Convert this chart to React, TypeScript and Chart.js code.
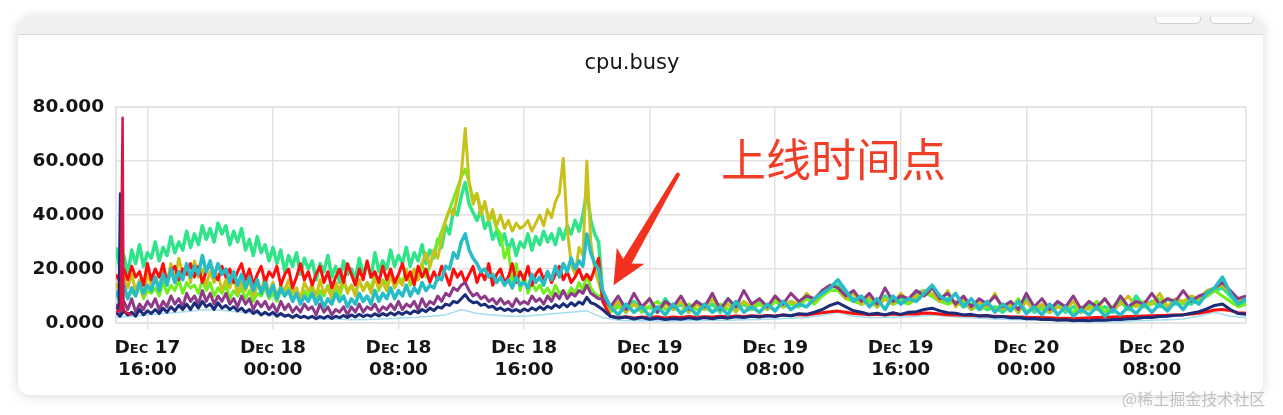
import React, { useEffect, useRef } from "react";
import { Chart, registerables } from "chart.js";

Chart.register(...registerables);

// Hours are counted from Dec 17 00:00. The chart runs Dec 17 14:00 -> Dec 20 14:00.
const START_HOUR = 14;
const END_HOUR = 86;
const RELEASE_HOUR = 45;
// quarter-hour samples before the release, half-hour samples after it
const SAMPLE_HOURS = [
  ...Array.from({ length: 124 }, (_, i) => START_HOUR + i * 0.25),
  ...Array.from({ length: 83 }, (_, i) => RELEASE_HOUR + i * 0.5),
];
const HOUR_GRID = Array.from({ length: 73 }, (_, i) => START_HOUR + i);

const xTickHours = [16, 24, 32, 40, 48, 56, 64, 72, 80];
const yTickValues = [0, 20, 40, 60, 80];
const MONTH = "Dec";
const TITLE = "cpu.busy";
const ANNOTATION_TEXT = "上线时间点";
const WATERMARK = "@稀土掘金技术社区";

// ---- series values ----
const springGreen = [
  28, 20, 25, 18, 27, 22, 29, 21, 26, 24, 30, 23, 28, 25, 32, 26, 30, 27, 34, 28,
  33, 29, 36, 31, 35, 30, 37, 33, 36, 29, 34, 30, 35, 27, 31, 25, 32, 26, 29, 23,
  28, 22, 27, 19, 25, 21, 26, 18, 24, 20, 23, 16, 22, 19, 25, 17, 21, 15, 23, 18,
  20, 16, 24, 18, 22, 17, 26, 19, 23, 20, 27, 21, 25, 22, 28, 21, 26, 23, 29, 22,
  27, 24, 31, 28, 36, 33, 42, 40, 47, 52, 44, 41, 38, 42, 35, 38, 31, 34, 29, 33,
  27, 31, 25, 30, 28, 33, 27, 32, 29, 34, 30, 33, 29, 35, 31, 36, 33, 38, 34, 40,
  49, 38, 33, 30,
  12, 5, 7, 4, 8, 5, 6, 4, 9, 5, 7, 4, 8, 5, 7, 4, 9, 5, 7, 5,
  8, 5, 9, 6, 8, 6, 10, 8, 11, 13, 14, 10, 9, 7, 9, 6, 10, 7, 9, 8,
  11, 12, 10, 8, 9, 7, 8, 5, 7, 5, 6, 4, 7, 4, 9, 4, 6, 4, 7, 4,
  6, 4, 7, 5, 6, 4, 8, 5, 10, 6, 8, 6, 9, 7, 8, 7, 9, 10, 12, 13,
  10, 7, 8,
];

const red = [
  18, 15, 20, 16, 21, 17, 19, 14, 22, 16, 20, 17, 22, 15, 19, 21, 16, 20, 18, 22,
  17, 21, 15, 19, 22, 18, 16, 21, 17, 20, 15, 19, 22, 16, 20, 14, 18, 21, 15, 19,
  17, 21, 14, 18, 20, 13, 17, 22, 16, 19, 14, 18, 21, 15, 19, 13, 17, 20, 15, 22,
  18, 14, 20, 16, 23, 17, 19, 15, 21, 16, 20, 15, 18, 22, 16, 19, 14, 21, 17, 20,
  15, 19, 16, 21, 18, 14, 20, 17, 19, 15, 18, 21, 15, 19, 16, 22, 14, 18, 20, 15,
  17, 22, 15, 19, 16, 21, 14, 18, 20, 16, 19, 15, 18, 21, 16, 19, 15, 17, 20, 16,
  18, 16, 20, 24,
  8, 2.5, 2, 2.3, 1.9, 2.2, 2, 2.3, 1.9, 2.2, 2, 2.4, 2.1, 2.3, 2.2, 2.5, 2.3, 2.6, 2.4, 2.7,
  2.5, 2.8, 2.6, 3, 2.8, 3.1, 3, 3.4, 3.8, 4.2, 4.4, 4, 3.5, 3.3, 3.1, 3.2, 3, 3.3, 3.1, 3.4,
  3.3, 3.7, 3.6, 3.3, 3.1, 3, 2.9, 2.8, 2.7, 2.6, 2.5, 2.4, 2.3, 2.2, 2.1, 2, 2, 1.9, 1.8, 1.8,
  1.7, 1.8, 1.9, 2, 2.1, 2.2, 2.3, 2.4, 2.5, 2.6, 2.7, 2.8, 2.9, 3, 3.1, 3.3, 3.6, 4.2, 4.8, 5,
  4.6, 3.8, 3.6,
];

const olive = [
  15, 11, 17, 13, 18, 12, 16, 10, 19, 14, 17, 13, 20, 15, 22, 16, 24, 18, 21, 15,
  23, 17, 20, 14, 19, 15, 18, 12, 16, 13, 17, 11, 15, 12, 16, 10, 14, 12, 17, 11,
  15, 10, 14, 12, 16, 11, 13, 9, 15, 12, 14, 10, 16, 11, 13, 9, 15, 12, 17, 11,
  14, 10, 16, 12, 15, 11, 17, 13, 15, 12, 18, 13, 16, 14, 19, 15, 20, 16, 22, 26,
  21, 27, 24, 31, 38, 42, 40, 47, 55, 72, 52, 44, 48, 40, 45, 38, 42, 36, 40, 35,
  38, 34, 37, 35, 36, 38, 34, 37, 40, 36, 42, 39, 45, 48, 61, 35, 22, 18, 28, 25,
  60, 30, 20, 15,
  10, 5, 8, 4, 7, 5, 9, 4, 7, 5, 8, 4, 7, 5, 9, 5, 7, 4, 8, 6,
  9, 5, 10, 6, 8, 7, 11, 8, 12, 14, 13, 9, 11, 7, 10, 6, 9, 7, 11, 8,
  10, 12, 11, 8, 12, 6, 9, 5, 8, 6, 11, 5, 7, 4, 8, 5, 7, 4, 6, 5,
  8, 4, 6, 5, 9, 5, 7, 10, 6, 8, 7, 11, 6, 9, 8, 10, 9, 12, 13, 14,
  11, 8, 9,
];

const lime = [
  11, 8, 13, 9, 12, 10, 14, 9, 12, 11, 13, 10, 15, 11, 14, 12, 16, 11, 15, 13,
  14, 11, 16, 12, 15, 10, 13, 11, 14, 9, 12, 10, 13, 9, 12, 8, 11, 10, 13, 9,
  11, 8, 12, 10, 13, 9, 11, 8, 12, 10, 13, 9, 12, 10, 14, 11, 13, 10, 15, 12,
  14, 11, 16, 12, 15, 13, 18, 12, 16, 14, 19, 13, 17, 15, 20, 14, 18, 16, 22, 17,
  21, 26, 30, 34, 38, 42, 46, 50, 54, 57, 52, 46, 48, 42, 44, 38, 40, 35, 33, 24,
  28, 14, 22, 12, 18, 11, 15, 12, 14, 11, 13, 10, 14, 11, 12, 10, 13, 11, 15, 12,
  18, 13, 11, 10,
  10, 4, 6, 5, 7, 4, 6, 8, 5, 6, 4, 7, 5, 6, 4, 7, 5, 6, 8, 5,
  7, 5, 8, 6, 7, 6, 9, 7, 10, 12, 12, 9, 8, 7, 8, 6, 9, 7, 8, 7,
  9, 11, 10, 8, 7, 8, 6, 7, 5, 6, 5, 7, 5, 9, 4, 6, 5, 4, 6, 5,
  4, 6, 5, 8, 4, 6, 9, 5, 7, 6, 7, 9, 6, 8, 7, 9, 8, 10, 12, 10,
  8, 6, 7,
];

const teal = [
  12, 8, 14, 9, 13, 10, 15, 11, 14, 12, 17, 12, 18, 14, 20, 15, 19, 16, 22, 17,
  21, 18, 25, 19, 23, 17, 22, 18, 20, 15, 19, 14, 18, 13, 17, 12, 16, 11, 15, 10,
  14, 9, 13, 10, 12, 8, 11, 7, 10, 8, 11, 7, 10, 6, 9, 7, 11, 8, 10, 6,
  9, 7, 11, 8, 10, 7, 12, 8, 11, 9, 13, 9, 12, 10, 14, 10, 13, 11, 15, 12,
  14, 13, 17, 16, 21, 20, 26, 24, 30, 33, 27, 24, 22, 19, 20, 17, 18, 15, 17, 14,
  16, 13, 17, 14, 15, 13, 18, 15, 17, 14, 19, 16, 21, 17, 22, 19, 24, 20, 23, 21,
  33, 26, 22, 20,
  12, 6, 3, 7, 4, 6, 2.5, 6, 3, 7, 3.5, 6, 3, 7, 4, 6, 3, 8, 4, 6,
  4, 7, 4.5, 8, 5, 7, 6, 9, 11, 13, 16, 12, 8, 10, 6, 9, 5, 10, 7, 9,
  8, 11, 14, 10, 8, 11, 6, 9, 5, 8, 4, 7, 4.5, 8, 3.5, 6, 3, 7, 3, 6,
  2.5, 5, 3, 6, 2.5, 5, 3, 6, 3.5, 7, 4, 7, 4.5, 8, 5, 9, 7, 11, 13, 17,
  11, 7, 9,
];

const purple = [
  7, 4, 8, 5, 9, 4, 7, 5, 8, 6, 9, 5, 8, 6, 10, 7, 9, 6, 11, 8,
  10, 7, 12, 8, 11, 7, 10, 8, 11, 7, 9, 6, 10, 7, 9, 5, 8, 6, 8, 5,
  7, 4, 8, 5, 7, 4, 6, 4, 7, 5, 6, 3, 7, 4, 6, 3, 5, 4, 6, 3,
  6, 4, 7, 4, 6, 5, 7, 4, 6, 5, 7, 5, 8, 5, 7, 6, 8, 5, 9, 6,
  8, 7, 10, 8, 11, 10, 13, 12, 14, 15, 12, 10, 11, 9, 10, 8, 9, 7, 9, 7,
  8, 6, 9, 7, 8, 7, 10, 8, 9, 7, 10, 8, 11, 9, 12, 9, 11, 10, 12, 11,
  14, 11, 10, 9,
  9, 6, 10, 5, 11, 6, 9, 4, 8, 6, 10, 5, 8, 6, 11, 5, 9, 6, 12, 7,
  9, 6, 10, 7, 11, 8, 10, 9, 12, 14, 13, 10, 12, 8, 11, 7, 13, 8, 10, 9,
  12, 10, 13, 9, 11, 7, 10, 6, 9, 7, 10, 6, 8, 5, 11, 6, 9, 5, 8, 6,
  10, 5, 8, 6, 9, 5, 10, 6, 8, 7, 11, 7, 9, 8, 12, 8, 10, 11, 13, 15,
  12, 9, 10,
];

const navy = [
  4, 2.5, 4.5, 3, 4, 2.5, 5, 3, 4.5, 3.5, 5, 3.5, 5.5, 4, 6, 4.5, 6.5, 5, 7, 5,
  7.5, 5.5, 8, 6, 7, 5, 7.5, 5.5, 6.5, 5, 6, 4.5, 5.5, 4, 5, 3.5, 4.5, 3, 4, 3,
  4, 2.5, 3.5, 2.5, 3, 2, 3, 2, 2.5, 1.8, 2.5, 1.6, 2.4, 1.8, 2.6, 1.7, 2.5, 2, 2.8, 2,
  3, 2.2, 3.2, 2.4, 3, 2.5, 3.4, 2.6, 3.5, 2.8, 3.8, 3, 4, 3.2, 4.2, 3.4, 4.5, 3.8, 5, 4.2,
  5.5, 4.6, 6, 5.5, 7, 6.5, 8, 7.5, 9, 10.5, 8.5, 7.5, 7.8, 6.5, 7, 5.8, 6.2, 5, 5.6, 4.6,
  5.2, 4.4, 5, 4.2, 5.2, 4.5, 5.6, 4.8, 6, 5, 6.2, 5.4, 6.8, 5.8, 7.2, 6, 7.5, 6.4, 7.8, 7,
  9.5, 7.5, 7, 6,
  5, 2.5, 1.8, 2.2, 1.5, 2, 1.4, 1.8, 1.3, 1.7, 1.4, 1.9, 1.5, 2, 1.6, 2.1, 1.8, 2.3, 2, 2.5,
  2.2, 2.7, 2.4, 3, 2.7, 3.4, 3.2, 4, 5, 6.5, 7.5, 6, 4.5, 4, 3.2, 3.6, 3, 3.8, 3.2, 4,
  4.2, 5, 5.5, 4.5, 3.8, 3.6, 3, 3.2, 2.6, 2.8, 2.2, 2.4, 1.9, 2, 1.6, 1.7, 1.3, 1.4, 1, 1.2,
  0.8, 1, 0.8, 1.1, 1, 1.3, 1.3, 1.6, 1.7, 2, 2, 2.4, 2.5, 2.9, 3, 3.6, 4.2, 5.2, 6.5, 7,
  5, 3.5, 3.2,
];

// hourly samples
const lightBlue = [
  2, 2.5, 3, 3.5, 4, 4.5, 5, 4.5, 4, 3.5,
  3, 2.5, 2, 1.5, 1.5, 1.2, 1.3, 1.5, 1.8, 2,
  2.5, 3, 5, 3.5, 3, 2.5, 2.5, 3, 3.5, 4,
  4.5, 2, 1, 0.8, 0.8, 0.7, 0.8, 0.9, 1, 1,
  1.2, 1.3, 1.5, 1.8, 2, 2.8, 4, 2.5, 2, 2,
  2.2, 2.5, 3, 2.5, 2, 1.8, 1.5, 1.3, 1.2, 1,
  0.8, 0.6, 0.5, 0.5, 0.6, 0.8, 1, 1.2, 1.5, 2.5,
  4, 2.5, 2,
];

// short start-up spikes
const crimsonHours = [14, 14.3, 14.42, 14.48, 14.6, 15];
const crimsonSpike = [4, 5, 76, 5, 4, 3];
const navySpikeHours = [14.05, 14.18, 14.26, 14.34, 14.5];
const navySpike = [5, 6, 48, 6, 5];

// annotation anchor in data units (hours, value)
const ARROW_TIP = { h: 45.7, v: 14 };
const ARROW_TAIL = { h: 49.8, v: 55 };
const LABEL_ANCHOR = { h: 52.55, v: 60.5 };

const SERIES = [
  { name: "spike-a", hours: crimsonHours, values: crimsonSpike, color: "#dc1444", width: 2.5 },
  { name: "spike-b", hours: navySpikeHours, values: navySpike, color: "#1c2c7c", width: 2.5 },
  { name: "navy", hours: SAMPLE_HOURS, values: navy, color: "#1b2d78", width: 3 },
  { name: "teal", hours: SAMPLE_HOURS, values: teal, color: "#27bcc6", width: 3.5 },
  { name: "purple", hours: SAMPLE_HOURS, values: purple, color: "#8d3a88", width: 3 },
  { name: "red", hours: SAMPLE_HOURS, values: red, color: "#ff0d0d", width: 3 },
  { name: "olive", hours: SAMPLE_HOURS, values: olive, color: "#c9c01a", width: 3 },
  { name: "lime", hours: SAMPLE_HOURS, values: lime, color: "#6ff01c", width: 3 },
  { name: "springGreen", hours: SAMPLE_HOURS, values: springGreen, color: "#30e48a", width: 3.5 },
  { name: "lightBlue", hours: HOUR_GRID, values: lightBlue, color: "#a6dcf0", width: 1.5 },
];

const TICK_FONT_FAMILY = "DejaVu Sans";

const framePlugin = {
  id: "frame",
  beforeDatasetsDraw(chart: any) {
    const { ctx, chartArea } = chart;
    ctx.save();
    ctx.strokeStyle = "#e2e2e2";
    ctx.lineWidth = 1.5;
    ctx.strokeRect(chartArea.left, chartArea.top, chartArea.right - chartArea.left, chartArea.bottom - chartArea.top);
    ctx.restore();
  },
};

const annotationPlugin = {
  id: "releaseNote",
  afterDatasetsDraw(chart: any) {
    const { ctx } = chart;
    const xs = chart.scales.x;
    const ys = chart.scales.y;
    const tx = xs.getPixelForValue(ARROW_TIP.h);
    const ty = ys.getPixelForValue(ARROW_TIP.v);
    const sx = xs.getPixelForValue(ARROW_TAIL.h);
    const sy = ys.getPixelForValue(ARROW_TAIL.v);
    const len = Math.hypot(tx - sx, ty - sy);
    const dx = (tx - sx) / len;
    const dy = (ty - sy) / len;
    const px = -dy;
    const py = dx;
    const headLen = 31;
    const headHalf = 16;
    const bx = tx - dx * headLen;
    const by = ty - dy * headLen;
    const color = "#f2321f";
    ctx.save();
    ctx.fillStyle = color;
    const nx = tx - dx * (headLen - 8);
    const ny = ty - dy * (headLen - 8);
    ctx.beginPath();
    ctx.moveTo(sx + px * 2, sy + py * 2);
    ctx.lineTo(nx + px * 5, ny + py * 5);
    ctx.lineTo(nx - px * 5, ny - py * 5);
    ctx.lineTo(sx - px * 2, sy - py * 2);
    ctx.closePath();
    ctx.fill();
    ctx.beginPath();
    ctx.arc(sx, sy, 2, 0, Math.PI * 2);
    ctx.fill();
    ctx.beginPath();
    ctx.moveTo(tx, ty);
    ctx.lineTo(bx + px * headHalf - dx * 3, by + py * headHalf - dy * 3);
    ctx.lineTo(bx + dx * 6, by + dy * 6);
    ctx.lineTo(bx - px * headHalf - dx * 3, by - py * headHalf - dy * 3);
    ctx.closePath();
    ctx.fill();
    ctx.fillStyle = "#f03e28";
    ctx.font = "400 45px 'Noto Sans CJK SC'";
    ctx.textAlign = "left";
    ctx.textBaseline = "middle";
    ctx.fillText(ANNOTATION_TEXT, xs.getPixelForValue(LABEL_ANCHOR.h), ys.getPixelForValue(LABEL_ANCHOR.v));
    ctx.restore();
  },
};

function ChartCanvas() {
  const ref = useRef<HTMLCanvasElement | null>(null);
  useEffect(() => {
    const canvas = ref.current;
    if (!canvas) return;
    const datasets = SERIES.map((s) => ({
      label: s.name,
      data: s.values.map((v, i) => ({ x: s.hours[i], y: v })),
      borderColor: s.color,
      backgroundColor: s.color,
      borderWidth: s.width,
      pointRadius: 0,
      tension: 0,
      borderJoinStyle: "round" as const,
      fill: false,
    }));
    const chart = new Chart(canvas, {
      type: "line",
      data: { datasets },
      plugins: [framePlugin, annotationPlugin],
      options: {
        animation: false,
        responsive: false,
        maintainAspectRatio: false,
        events: [],
        layout: { padding: { left: 0, right: 17, top: 0, bottom: 0 } },
        plugins: {
          legend: { display: false },
          tooltip: { enabled: false },
          title: {
            display: true,
            text: TITLE,
            color: "#151515",
            font: { family: "DejaVu Sans", size: 21, weight: "normal" },
            padding: { top: 16, bottom: 30.8 },
          },
        },
        scales: {
          x: {
            type: "linear",
            min: START_HOUR,
            max: END_HOUR,
            afterBuildTicks: (scale: any) => {
              scale.ticks = xTickHours.map((v) => ({ value: v }));
            },
            afterFit: (scale: any) => {
              scale.height = 72;
            },
            grid: { color: "#e2e2e2", lineWidth: 1.5, drawTicks: true, tickLength: 6 },
            border: { color: "#e2e2e2", width: 1.5 },
            ticks: {
              autoSkip: false,
              maxRotation: 0,
              minRotation: 0,
              padding: 8,
              color: "#151515",
              font: { family: TICK_FONT_FAMILY, size: 18.5, weight: "small-caps bold" as any, lineHeight: 1.2 },
              callback: (value: any) => {
                const h = Number(value);
                const day = 17 + Math.floor(h / 24);
                const hh = h % 24;
                return [`${MONTH} ${day}`, `${String(hh).padStart(2, "0")}:00`];
              },
            },
          },
          y: {
            type: "linear",
            min: 0,
            max: 80,
            afterBuildTicks: (scale: any) => {
              scale.ticks = yTickValues.map((v) => ({ value: v }));
            },
            afterFit: (scale: any) => {
              scale.width = 98;
            },
            grid: { color: "#e2e2e2", lineWidth: 1.5, drawTicks: false },
            border: { color: "#e2e2e2", width: 1.5 },
            ticks: {
              padding: 12,
              color: "#151515",
              font: { family: TICK_FONT_FAMILY, size: 18.5, weight: "bold" },
              callback: (value: any) => Number(value).toFixed(3),
            },
          },
        },
      },
    });
    return () => chart.destroy();
  }, []);
  return <canvas ref={ref} width={1245} height={360} style={{ display: "block", width: 1245, height: 360 }} />;
}

export default function App() {
  return (
    <div style={{ position: "relative", width: 1267, height: 399, background: "#ffffff" }}>
      <div
        style={{
          position: "absolute",
          left: 10,
          top: 9,
          width: 1245,
          height: 378,
          borderRadius: 12,
          background: "#ffffff",
          boxShadow: "0 1px 12px rgba(0,0,0,0.16)",
          overflow: "hidden",
        }}
      >
        <div
          style={{
            position: "absolute",
            left: 0,
            top: 0,
            width: 1245,
            height: 17,
            background: "#f0f0f0",
            borderBottom: "1px solid #dadada",
          }}
        >
          <div
            style={{
              position: "absolute",
              left: 1137,
              top: 0,
              width: 44,
              height: 6,
              background: "#fbfbfb",
              border: "1px solid #cfcfcf",
              borderTop: "none",
              borderRadius: "0 0 5px 5px",
            }}
          />
          <div
            style={{
              position: "absolute",
              left: 1192,
              top: 0,
              width: 42,
              height: 6,
              background: "#fbfbfb",
              border: "1px solid #cfcfcf",
              borderTop: "none",
              borderRadius: "0 0 5px 5px",
            }}
          />
        </div>
        <div style={{ position: "absolute", left: 0, top: 18 }}>
          <ChartCanvas />
        </div>
      </div>
      <div
        style={{
          position: "absolute",
          left: 1114,
          top: 380,
          fontFamily: "'Noto Sans CJK SC', sans-serif",
          fontSize: 16,
          lineHeight: "20px",
          color: "#c2c2c2",
          whiteSpace: "nowrap",
        }}
      >
        {WATERMARK}
      </div>
    </div>
  );
}
